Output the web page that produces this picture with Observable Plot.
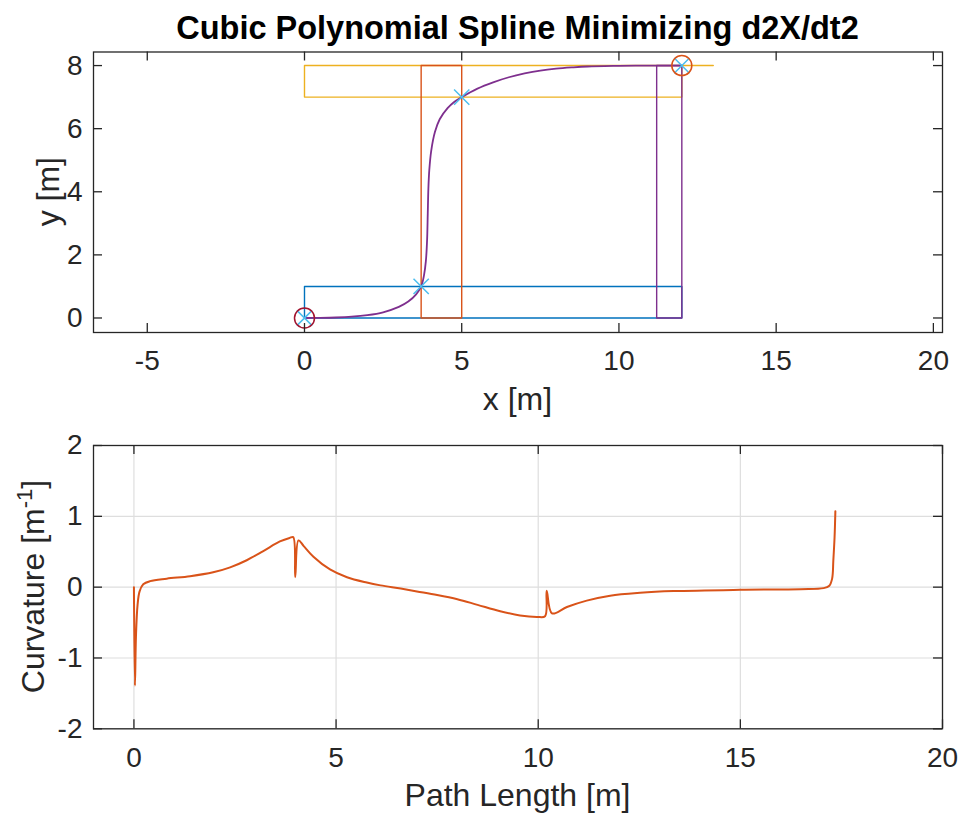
<!DOCTYPE html>
<html>
<head>
<meta charset="utf-8">
<script src="https://cdn.jsdelivr.net/npm/d3@7"></script>
<script src="https://cdn.jsdelivr.net/npm/@observablehq/plot@0.6"></script>
<style>
  html, body { margin: 0; padding: 0; background: #ffffff; }
  #wrap { position: relative; width: 963px; height: 816px; font-family: "Liberation Sans", Arial, Helvetica, sans-serif; color: #262626; }
  #top, #bottom { position: absolute; left: 0; }
  #top { top: 0; }
  #bottom { top: 420px; }
  #labels { position: absolute; left: 0; top: 0; pointer-events: none; }
</style>
</head>
<body>
<div id="wrap">
  <div id="top"></div>
  <div id="bottom"></div>
  <svg id="labels" width="963" height="816" font-family="Liberation Sans, Arial, Helvetica, sans-serif" fill="#262626">
    <text x="517.5" y="39" text-anchor="middle" font-weight="bold" font-size="32.5" fill="#000000">Cubic Polynomial Spline Minimizing d2X/dt2</text>
    <text x="517.5" y="410" text-anchor="middle" font-size="32">x [m]</text>
    <text transform="translate(59,191.7) rotate(-90)" text-anchor="middle" font-size="32">y [m]</text>
    <text x="517.5" y="806" text-anchor="middle" font-size="32">Path Length [m]</text>
    <text transform="translate(44,586.5) rotate(-90)" text-anchor="middle" font-size="32">Curvature [m<tspan font-size="22" dy="-12">-1</tspan><tspan dy="12">]</tspan></text>
  </svg>
</div>
<script>
// ---------- Data ----------
// Corridor boxes (x, y vertices)
const blueBoxX   = [0, 12, 12, 0, 0];
const blueBoxY   = [0, 0, 1, 1, 0];
const yellowBoxX = [13, 0, 0, 12, 12];
const yellowBoxY = [8, 8, 7, 7, 8];
const orangeBoxX = [3.71, 5, 5, 3.71, 3.71];
const orangeBoxY = [0, 0, 8, 8, 0];
const purpleBoxX = [11.2, 12, 12, 11.2, 11.2];
const purpleBoxY = [0, 0, 8, 8, 0];

// Spline path
const splineX = [0, 0.5, 1, 1.5, 2, 2.5, 3, 3.3, 3.55, 3.71, 3.8, 3.86, 3.9, 3.92, 3.94, 3.97, 4.03, 4.15, 4.3, 4.55, 4.75, 5, 5.5, 6, 6.5, 7, 7.5, 8, 8.5, 9, 10, 11, 12];
const splineY = [0, 0.004, 0.015, 0.04, 0.09, 0.18, 0.35, 0.52, 0.75, 1.0, 1.35, 1.8, 2.5, 3.3, 4.1, 4.7, 5.3, 5.9, 6.3, 6.65, 6.84, 7.0, 7.27, 7.47, 7.63, 7.75, 7.84, 7.9, 7.94, 7.97, 7.99, 8.0, 8.0];

// Waypoints and start / goal
const wayX = [0, 3.71, 5, 12];
const wayY = [0, 1, 7, 8];
const startX = [0], startY = [0];
const goalX = [12], goalY = [8];

// Curvature along path
const pathLength = [0, 0.025, 0.05, 0.09, 0.14, 0.23, 0.4, 0.81, 1.39, 1.96, 2.38, 2.79, 3.2, 3.61, 3.85, 3.94, 3.99, 4.07, 4.2, 4.44, 4.85, 5.27, 5.76, 6.1, 6.6, 7.0, 7.5, 8.0, 8.5, 9.06, 9.55, 9.97, 10.17, 10.21, 10.34, 10.71, 11.2, 11.78, 12.52, 13.35, 15.0, 16.49, 17.06, 17.2, 17.27, 17.3, 17.33, 17.35];
const curvature  = [0, -1.39, -0.7, -0.25, -0.06, 0.04, 0.085, 0.12, 0.155, 0.21, 0.28, 0.38, 0.51, 0.645, 0.695, 0.706, 0.14, 0.66, 0.58, 0.43, 0.25, 0.14, 0.065, 0.025, -0.02, -0.06, -0.11, -0.17, -0.25, -0.34, -0.40, -0.42, -0.41, -0.05, -0.37, -0.28, -0.19, -0.12, -0.08, -0.056, -0.037, -0.028, -0.014, 0.02, 0.12, 0.38, 0.7, 1.07];

// Ticks
const topXTicks = [-5, 0, 5, 10, 15, 20];
const topYTicks = [0, 2, 4, 6, 8];
const botXTicks = [0, 5, 10, 15, 20];
const botYTicks = [-2, -1, 0, 1, 2];

// ---------- Helpers ----------
const zip = (xs, ys) => xs.map((x, i) => ({x, y: ys[i]}));
const axisColor = "#262626";
const tickLen = 9;
const tickFont = 28;
const fontFamily = "Liberation Sans, Arial, Helvetica, sans-serif";

function boxTicks(xt, yt, plotW, plotH) {
  return [
    Plot.ruleX(xt, {x: d => d, insetTop: plotH - tickLen, stroke: axisColor, strokeWidth: 1.3}),
    Plot.ruleX(xt, {x: d => d, insetBottom: plotH - tickLen, stroke: axisColor, strokeWidth: 1.3}),
    Plot.ruleY(yt, {y: d => d, insetRight: plotW - tickLen, stroke: axisColor, strokeWidth: 1.3}),
    Plot.ruleY(yt, {y: d => d, insetLeft: plotW - tickLen, stroke: axisColor, strokeWidth: 1.3})
  ];
}

// ---------- Top chart ----------
const topML = 93, topMR = 21, topMT = 51.5, topH = 420, topMB = 88;
const topPlotW = 963 - topML - topMR, topPlotH = topH - topMT - topMB;

const topChart = Plot.plot({
  width: 963, height: topH,
  marginLeft: topML, marginRight: topMR, marginTop: topMT, marginBottom: topMB,
  style: {overflow: "visible", background: "transparent", fontFamily, color: axisColor},
  x: {domain: [-6.71, 20.29]},
  y: {domain: [-0.46, 8.43]},
  marks: [
    Plot.line(zip(blueBoxX, blueBoxY), {x: "x", y: "y", stroke: "#0072BD", strokeWidth: 1.4}),
    Plot.line(zip(yellowBoxX, yellowBoxY), {x: "x", y: "y", stroke: "#EDB120", strokeWidth: 1.4}),
    Plot.line(zip(orangeBoxX, orangeBoxY), {x: "x", y: "y", stroke: "#D95319", strokeWidth: 1.4}),
    Plot.line(zip(purpleBoxX, purpleBoxY), {x: "x", y: "y", stroke: "#7E2F8E", strokeWidth: 1.4}),
    Plot.line(zip(splineX, splineY), {x: "x", y: "y", stroke: "#7E2F8E", strokeWidth: 1.8, curve: "catmull-rom"}),
    Plot.dot(zip(wayX, wayY), {x: "x", y: "y", symbol: "times", r: 7, stroke: "#4DBEEE", strokeWidth: 1.5}),
    Plot.dot(zip(startX, startY), {x: "x", y: "y", r: 10, stroke: "#A2142F", strokeWidth: 1.5, fill: "none"}),
    Plot.dot(zip(goalX, goalY), {x: "x", y: "y", r: 10, stroke: "#D95319", strokeWidth: 1.5, fill: "none"}),
    ...boxTicks(topXTicks, topYTicks, topPlotW, topPlotH),
    Plot.frame({stroke: axisColor, strokeWidth: 1.3}),
    Plot.axisX(topXTicks, {anchor: "bottom", tickSize: 0, tickPadding: 18, fontSize: tickFont, label: null, tickFormat: d => String(d)}),
    Plot.axisY(topYTicks, {anchor: "left", tickSize: 0, tickPadding: 11, fontSize: tickFont, label: null, tickFormat: d => String(d)})
  ]
});
document.getElementById("top").appendChild(topChart);

// ---------- Bottom chart ----------
const botML = 93, botMR = 21, botTop = 420, botMT = 445 - botTop, botH = 396, botMB = botH - (728.3 - botTop);
const botPlotW = 963 - botML - botMR, botPlotH = botH - botMT - botMB;

const botChart = Plot.plot({
  width: 963, height: botH,
  marginLeft: botML, marginRight: botMR, marginTop: botMT, marginBottom: botMB,
  style: {overflow: "visible", background: "transparent", fontFamily, color: axisColor},
  x: {domain: [-1, 20]},
  y: {domain: [-2, 2]},
  marks: [
    Plot.gridX(botXTicks, {stroke: "#dedede", strokeOpacity: 1, strokeWidth: 1.2}),
    Plot.gridY(botYTicks, {stroke: "#dedede", strokeOpacity: 1, strokeWidth: 1.2}),
    Plot.line(zip(pathLength, curvature), {x: "x", y: "y", stroke: "#D95319", strokeWidth: 2, curve: "catmull-rom"}),
    ...boxTicks(botXTicks, botYTicks, botPlotW, botPlotH),
    Plot.frame({stroke: axisColor, strokeWidth: 1.3}),
    Plot.axisX(botXTicks, {anchor: "bottom", tickSize: 0, tickPadding: 18, fontSize: tickFont, label: null, tickFormat: d => String(d)}),
    Plot.axisY(botYTicks, {anchor: "left", tickSize: 0, tickPadding: 11, fontSize: tickFont, label: null, tickFormat: d => String(d)})
  ]
});
document.getElementById("bottom").appendChild(botChart);
</script>
</body>
</html>
